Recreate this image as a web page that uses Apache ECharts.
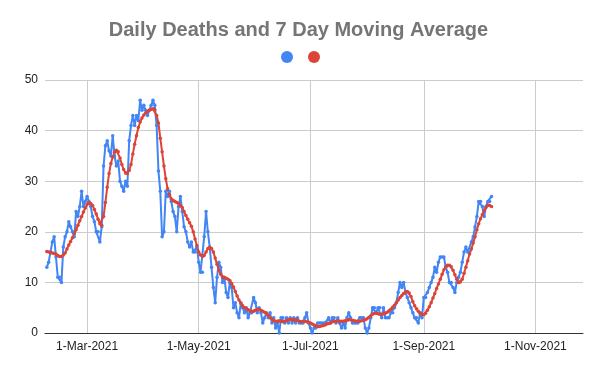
<!DOCTYPE html>
<html><head><meta charset="utf-8">
<script src="https://cdn.jsdelivr.net/npm/echarts/dist/echarts.min.js"></script>
<style>html,body{margin:0;padding:0;background:#fff}#chart{width:597px;height:369px}</style>
</head><body><div id="chart"></div>
<script>
const titleText = 'Daily Deaths and 7 Day Moving Average';
const seriesNames = ['Daily Deaths', '7 Day Moving Average'];
const axisStart = '2021-02-06';
const axisEnd = '2021-11-27';
const dataStart = '2021-02-07';
const tickMonths = ['Mar', 'May', 'Jul', 'Sep', 'Nov'];
const monthNames = ['Jan','Feb','Mar','Apr','May','Jun','Jul','Aug','Sep','Oct','Nov','Dec'];
const yMin = 0, yMax = 50, yStep = 10;

// daily values from 7-Feb-2021
const dailyDeaths = [
  13,14,16,18,19,15,11,11,10,17,
  19,20,22,21,20,19,24,23,25,28,
  25,26,27,26,25,23,22,20,20,18,
  21,33,37,38,36,35,39,35,33,34,
  30,29,28,30,29,38,41,43,41,43,
  42,46,44,45,44,43,44,45,46,45,
  41,32,28,19,20,28,27,28,26,24,
  23,20,25,27,24,21,20,18,17,18,
  16,16,17,14,12,12,19,24,20,17,
  13,9,6,11,14,13,10,11,8,7,
  10,9,5,6,4,3,6,5,4,5,
  3,4,4,7,6,4,5,4,2,3,
  4,3,4,2,3,1,2,0,3,3,
  2,3,2,3,2,3,2,3,2,2,
  2,3,4,2,1,0,1,1,2,2,
  2,2,2,2,3,2,3,3,2,3,
  2,1,2,1,3,4,3,2,2,2,
  2,3,3,3,1,0,1,3,5,5,
  4,5,5,3,5,3,3,3,4,4,
  5,6,8,10,9,10,8,7,6,5,
  4,3,3,2,4,3,7,7,8,9,
  10,11,13,12,14,15,15,15,13,12,
  10,10,9,8,10,11,12,14,16,17,
  16,16,18,19,21,23,26,26,25,23,
  25,26,26,27
];

const movingAverage = [
  16.1,16.0,15.9,15.8,15.7,15.6,15.3,15.1,15.1,15.4,
  15.8,16.6,17.4,18.1,18.8,19.6,20.4,21.3,22.2,23.0,
  23.9,24.7,25.4,25.8,25.6,25.2,24.4,23.5,22.5,21.6,
  21.3,23.0,25.8,28.8,31.5,33.5,34.8,35.7,36.1,35.8,
  34.6,33.3,32.3,31.6,31.5,32.1,33.3,35.4,37.3,39.0,
  40.6,41.7,42.5,43.1,43.5,43.8,44.0,44.2,44.3,44.1,
  43.0,41.5,38.5,35.8,33.0,30.5,28.5,27.3,26.5,26.2,
  26.0,25.8,25.6,25.2,24.8,24.0,23.2,22.5,21.8,21.1,
  20.0,18.6,17.3,16.0,15.4,15.1,15.3,16.0,16.7,16.9,
  16.7,16.0,14.8,13.6,12.4,11.6,11.1,10.9,10.8,10.6,
  10.4,9.8,9.1,8.2,7.3,6.5,5.9,5.4,5.0,4.8,
  4.6,4.4,4.3,4.3,4.5,4.7,4.7,4.5,4.3,4.1,
  3.8,3.5,3.0,2.7,2.4,2.3,2.3,2.4,2.3,2.2,
  2.3,2.4,2.6,2.7,2.6,2.5,2.6,2.5,2.3,2.2,
  2.3,2.3,2.2,2.1,2.0,1.8,1.6,1.4,1.3,1.3,
  1.4,1.5,1.6,1.8,1.9,2.0,2.2,2.3,2.3,2.4,
  2.3,2.3,2.3,2.4,2.5,2.6,2.6,2.5,2.4,2.3,
  2.3,2.3,2.4,2.5,2.6,2.8,3.1,3.4,3.7,3.9,
  3.9,3.8,3.7,3.7,3.8,3.9,4.1,4.4,4.7,5.1,
  5.5,6.0,6.5,7.0,7.4,7.8,8.1,8.2,7.9,7.2,
  6.2,5.4,4.8,4.3,3.9,3.7,3.6,3.9,4.5,5.2,
  6.0,6.9,7.8,8.8,9.7,10.6,11.6,12.5,13.1,13.4,
  13.4,13.1,12.4,11.5,10.6,10.0,10.1,10.6,11.8,13.0,
  14.3,15.6,16.6,17.8,19.0,20.4,21.6,22.6,23.4,24.2,
  24.8,25.3,25.2,25.0
];

// build the day categories of the axis
const DAY = 86400000;
const toUTC = s => { const p = s.split('-').map(Number); return Date.UTC(p[0], p[1] - 1, p[2]); };
const iso = t => new Date(t).toISOString().slice(0, 10);
const categories = [];
for (let t = toUTC(axisStart); t <= toUTC(axisEnd); t += DAY) categories.push(iso(t));
const offset = Math.round((toUTC(dataStart) - toUTC(axisStart)) / DAY);
const pad = arr => new Array(offset).fill('-').concat(arr);

const isTick = (idx, value) => {
  const p = value.split('-');
  return p[2] === '01' && tickMonths.indexOf(monthNames[Number(p[1]) - 1]) >= 0;
};
const fmt = value => {
  const p = value.split('-');
  return Number(p[2]) + '-' + monthNames[Number(p[1]) - 1] + '-' + p[0];
};

const FONT = '"Liberation Sans", Arial, sans-serif';
const chart = echarts.init(document.getElementById('chart'), null, {renderer: 'canvas'});
chart.setOption({
  animation: false,
  backgroundColor: '#ffffff',
  title: {
    text: titleText, left: 'center', top: 15,
    textStyle: {fontFamily: FONT, fontSize: 20, fontWeight: 'bold', color: '#757575'}
  },
  legend: {
    top: 46, left: 276, icon: 'circle', itemWidth: 12, itemHeight: 12, itemGap: 15,
    formatter: () => '', textStyle: {fontSize: 1},
    data: seriesNames
  },
  grid: {left: 45, right: 14, top: 80, bottom: 36, containLabel: false},
  xAxis: {
    type: 'category', data: categories, boundaryGap: false,
    axisLine: {show: true, lineStyle: {color: '#333', width: 1}},
    axisTick: {show: false},
    axisLabel: {interval: isTick, formatter: fmt, color: '#222', fontSize: 12, fontFamily: FONT, margin: 8},
    splitLine: {show: true, interval: isTick, lineStyle: {color: '#ccc', width: 1}}
  },
  yAxis: {
    type: 'value', min: yMin, max: yMax, interval: yStep,
    axisLine: {show: false}, axisTick: {show: false},
    axisLabel: {color: '#222', fontSize: 12, fontFamily: FONT, margin: 7},
    splitLine: {lineStyle: {color: '#ccc', width: 1}}
  },
  series: [
    {
      name: seriesNames[0], type: 'line', data: pad(dailyDeaths),
      showSymbol: true, showAllSymbol: true, symbol: 'circle', symbolSize: 3.5,
      itemStyle: {color: '#4285F4'}, lineStyle: {color: '#4285F4', width: 2}
    },
    {
      name: seriesNames[1], type: 'line', data: pad(movingAverage),
      showSymbol: true, showAllSymbol: true, symbol: 'circle', symbolSize: 3.5,
      itemStyle: {color: '#DB4437'}, lineStyle: {color: '#DB4437', width: 2}
    }
  ]
});
</script></body></html>
